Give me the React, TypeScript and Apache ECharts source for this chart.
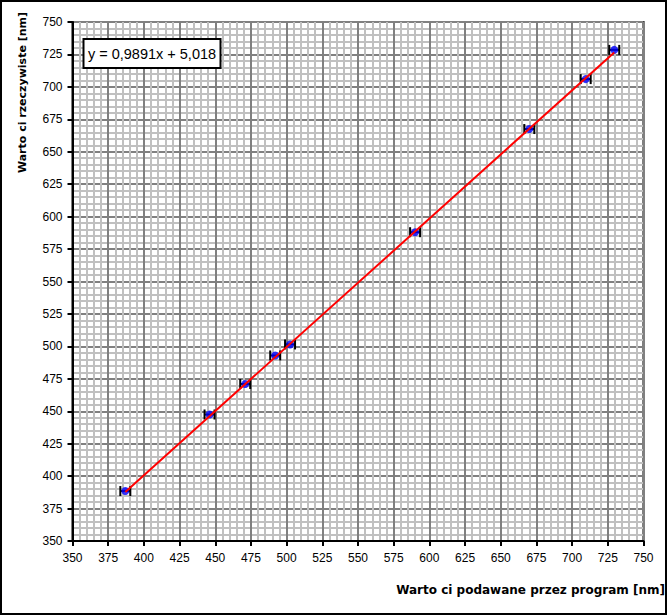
import React, { useEffect, useRef } from "react";
import * as echarts from "echarts";

const xValues = [387, 446, 471, 492, 502.4, 590, 670, 709.5, 729.5];
const yValues = [388.5, 447.5, 471, 493, 501.5, 588, 667.5, 706, 728.5];
const errorHalf = 3.5;
const slope = 0.9891;
const intercept = 5.018;
const equationText = "y = 0,9891x + 5,018";
const xTitle = "Warto ci podawane przez program [nm]";
const yTitle = "Warto ci rzeczywiste [nm]";

const FONT = "'Liberation Sans', Arial, sans-serif";
const TITLE_FONT = "'DejaVu Sans', 'Liberation Sans', sans-serif";

export default function App() {
  const ref = useRef<HTMLDivElement>(null);
  useEffect(() => {
    document.body.style.margin = "0";
    const chart = echarts.init(ref.current!, null, { renderer: "svg" });
    const points = xValues.map((x, i) => [x, yValues[i]]);
    const xMin = Math.min(...xValues);
    const xMax = Math.max(...xValues);
    const trend = [
      [xMin, slope * xMin + intercept],
      [xMax, slope * xMax + intercept],
    ];
    const axisCommon = {
      min: 350,
      max: 750,
      interval: 25,
      axisLine: { show: true, onZero: false, lineStyle: { color: "#000", width: 2 } },
      axisTick: { show: true, inside: false, length: 5, lineStyle: { color: "#000", width: 2 } },
      minorTick: { show: false, splitNumber: 5 },
      splitLine: { show: true, lineStyle: { color: "#808080", width: 2 } },
      minorSplitLine: { show: true, lineStyle: { color: "#c0c0c0", width: 2 } },
      axisLabel: { color: "#000", fontFamily: FONT, fontSize: 12 },
    };
    chart.setOption({
      animation: false,
      backgroundColor: "#fff",
      grid: {
        left: 72.5,
        top: 22,
        width: 571,
        height: 519,
        show: true,
        borderColor: "#000",
        borderWidth: 2,
        backgroundColor: "transparent",
      },
      xAxis: { type: "value", ...axisCommon, axisLabel: { ...axisCommon.axisLabel, margin: 11 } },
      yAxis: { type: "value", ...axisCommon, axisLabel: { ...axisCommon.axisLabel, margin: 10 } },
      series: [
        {
          type: "custom",
          z: 3,
          data: points,
          renderItem: (params: any, api: any) => {
            const x = api.value(0);
            const y = api.value(1);
            const l = api.coord([x - errorHalf, y]);
            const r = api.coord([x + errorHalf, y]);
            const style = { stroke: "#000", lineWidth: 2 };
            return {
              type: "group",
              children: [
                { type: "line", shape: { x1: l[0], y1: l[1], x2: r[0], y2: r[1] }, style },
                { type: "line", shape: { x1: l[0], y1: l[1] - 5, x2: l[0], y2: l[1] + 5 }, style },
                { type: "line", shape: { x1: r[0], y1: r[1] - 5, x2: r[0], y2: r[1] + 5 }, style },
              ],
            };
          },
        },
        {
          type: "scatter",
          z: 4,
          data: points,
          symbol: "circle",
          symbolSize: 8,
          itemStyle: { color: "#0000ff" },
        },
        {
          type: "line",
          z: 5,
          data: trend,
          symbol: "none",
          lineStyle: { color: "#ff0000", width: 2 },
        },
      ],
      graphic: [
        {
          type: "rect",
          shape: { x: 1, y: 1, width: 665, height: 613 },
          style: { fill: "none", stroke: "#000", lineWidth: 2 },
          z: 10,
        },
        {
          type: "rect",
          shape: { x: 83.5, y: 39, width: 137, height: 29 },
          style: { fill: "#fff", stroke: "#000", lineWidth: 2 },
          z: 10,
        },
        {
          type: "text",
          x: 152,
          y: 54,
          style: {
            text: equationText,
            fontFamily: FONT,
            fontSize: 14.5,
            fill: "#000",
            align: "center",
            verticalAlign: "middle",
          },
          z: 11,
        },
        {
          type: "text",
          x: 665,
          y: 590,
          style: {
            text: xTitle,
            fontFamily: TITLE_FONT,
            fontSize: 12,
            fontWeight: "bold",
            fill: "#000",
            align: "right",
            verticalAlign: "middle",
          },
          z: 11,
        },
        {
          type: "text",
          x: 22,
          y: 92.5,
          rotation: Math.PI / 2,
          style: {
            text: yTitle,
            fontFamily: TITLE_FONT,
            fontSize: 11,
            fontWeight: "bold",
            fill: "#000",
            align: "center",
            verticalAlign: "middle",
          },
          z: 11,
        },
      ],
    });
    return () => chart.dispose();
  }, []);
  return (
    <div
      ref={ref}
      style={{ position: "absolute", left: 0, top: 0, width: 668, height: 616 }}
    />
  );
}
